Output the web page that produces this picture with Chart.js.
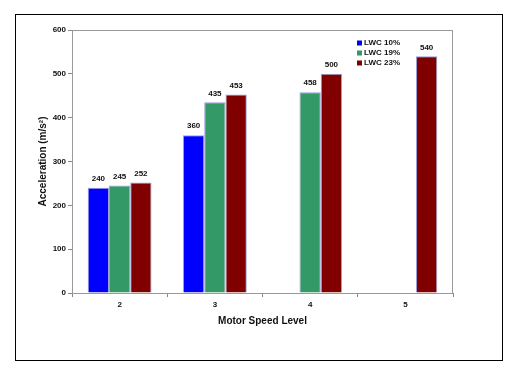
<!DOCTYPE html>
<html>
<head>
<meta charset="utf-8">
<script src="https://cdn.jsdelivr.net/npm/chart.js@4"></script>
<style>
  body { margin: 0; background: #fff; overflow: hidden; }
  #frame { position: absolute; left: 15px; top: 14px; width: 486px; height: 345px; border: 1px solid #000; }
  #chartAccel { position: absolute; left: 0; top: 0; }
</style>
</head>
<body>
<div id="frame"></div>
<canvas id="chartAccel" width="509" height="370"></canvas>
<script>
const speedLevels = ['2', '3', '4', '5'];
const lwc10 = [240, 360, null, null];
const lwc19 = [245, 435, 458, null];
const lwc23 = [252, 453, 500, 540];
const seriesNames = ['LWC 10%', 'LWC 19%', 'LWC 23%'];
const yTicks = [0, 100, 200, 300, 400, 500, 600];

const fontFamily = "Arial, 'Liberation Sans', sans-serif";

// numbers over the bars
const valueLabels = {
    id: 'valueLabels',
    afterDatasetsDraw(chart) {
        const ctx = chart.ctx;
        ctx.save();
        ctx.font = 'bold 8px ' + fontFamily;
        ctx.fillStyle = '#111';
        ctx.textAlign = 'center';
        ctx.textBaseline = 'middle';
        chart.data.datasets.forEach((ds, i) => {
            chart.getDatasetMeta(i).data.forEach((bar, j) => {
                if (ds.data[j] == null) return;
                ctx.fillText(ds.data[j], bar.x, bar.y - 9);
            });
        });
        ctx.restore();
    }
};

// plot area outline (top + right, grey like excel)
const plotFrame = {
    id: 'plotFrame',
    beforeDatasetsDraw(chart) {
        const a = chart.chartArea;
        const ctx = chart.ctx;
        ctx.save();
        ctx.strokeStyle = '#999';
        ctx.lineWidth = 1;
        ctx.strokeRect(a.left + 0.5, a.top + 0.5, a.right - a.left - 1, a.bottom - a.top);
        ctx.restore();
    }
};

// legend inside the plot, top right
const innerLegend = {
    id: 'innerLegend',
    afterDraw(chart) {
        const ctx = chart.ctx;
        ctx.save();
        ctx.font = 'bold 8px ' + fontFamily;
        ctx.textBaseline = 'middle';
        chart.data.datasets.forEach((ds, i) => {
            const y = 43 + i * 10;
            ctx.fillStyle = ds.backgroundColor;
            ctx.fillRect(357, y - 2.5, 5, 5);
            ctx.fillStyle = '#111';
            ctx.fillText(ds.label, 364, y);
        });
        ctx.restore();
    }
};

const ctx = document.getElementById('chartAccel').getContext('2d');
const myChart = new Chart(ctx, {
    type: 'bar',
    data: {
        labels: speedLevels,
        datasets: [{
            label: seriesNames[0],
            data: lwc10,
            backgroundColor: '#0000ff'
        }, {
            label: seriesNames[1],
            data: lwc19,
            backgroundColor: '#339966'
        }, {
            label: seriesNames[2],
            data: lwc23,
            backgroundColor: '#800000'
        }].map(d => Object.assign(d, {
            borderColor: 'rgba(90,90,190,0.6)',
            borderWidth: 1,
            barPercentage: 1,
            categoryPercentage: 0.67
        }))
    },
    options: {
        responsive: false,
        animation: false,
        devicePixelRatio: 1,
        layout: { padding: { left: 0, top: 30, right: 56, bottom: 0 } },
        plugins: {
            legend: { display: false },
            tooltip: { enabled: false }
        },
        scales: {
            x: {
                grid: { offset: true, drawOnChartArea: false, tickLength: 4, color: '#888' },
                border: { color: '#888' },
                ticks: { color: '#111', padding: 3, font: { family: fontFamily, size: 8, weight: 'bold' } },
                title: {
                    display: true,
                    text: 'Motor Speed Level',
                    color: '#111',
                    font: { family: fontFamily, size: 10, weight: 'bold' },
                    padding: { top: 0, bottom: 43 }
                },
                afterFit(scale) { scale.height = 77; }
            },
            y: {
                min: 0,
                max: 600,
                afterBuildTicks(scale) { scale.ticks = yTicks.map(v => ({ value: v })); },
                grid: { drawOnChartArea: false, tickLength: 4, color: '#888' },
                border: { color: '#888' },
                ticks: { color: '#111', padding: 2, font: { family: fontFamily, size: 8, weight: 'bold' } },
                title: {
                    display: true,
                    text: 'Acceleration (m/s²)',
                    color: '#111',
                    font: { family: fontFamily, size: 10, weight: 'bold' },
                    padding: { top: 37, bottom: 0 }
                },
                afterFit(scale) { scale.width = 72; }
            }
        }
    },
    plugins: [plotFrame, valueLabels, innerLegend]
});
</script>
</body>
</html>
